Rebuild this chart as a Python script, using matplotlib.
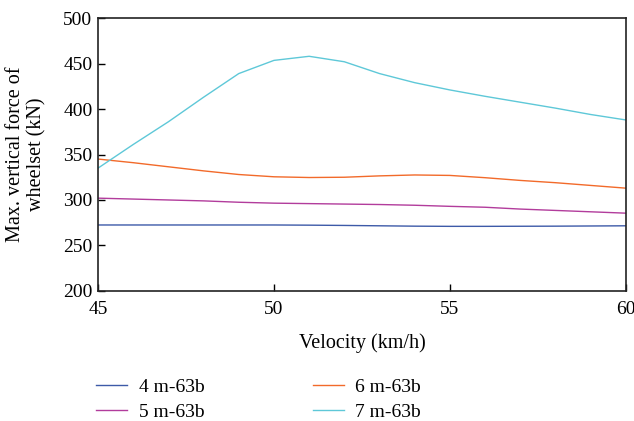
import numpy as np
import matplotlib
matplotlib.use('Agg')
import matplotlib.pyplot as plt

plt.rcParams['font.family'] = ['Liberation Serif', 'DejaVu Serif']

velocity = [45, 46, 47, 48, 49, 50, 51, 52, 53, 54, 55, 56, 57, 58, 59, 60]
force_4m = [272.5, 272.5, 272.5, 272.5, 272.5, 272.5, 272.3, 272.0, 271.6, 271.2, 271.0, 271.0, 271.1, 271.2, 271.4, 271.6]
force_5m = [302, 301, 300, 299, 297.5, 296.5, 296, 295.5, 295, 294.2, 293, 292, 290, 288.5, 287, 285.5]
force_6m = [345, 341, 336.5, 332, 328, 325.5, 324.7, 325, 326.5, 327.5, 327, 324.5, 321.5, 319, 316, 313]
force_7m = [335, 361, 386, 413, 439, 453.5, 458, 452, 439, 429, 421, 414, 407.5, 401, 394, 388]

labels = ['4 m-63b', '5 m-63b', '6 m-63b', '7 m-63b']
colors = ['#3d5aa8', '#b23c9c', '#f26a2a', '#5ec8d8']

fig = plt.figure(figsize=(6.34, 4.21), dpi=100)
ax = fig.add_axes([0.1546, 0.309, 0.8325, 0.648])

for series, lab, col in zip([force_4m, force_5m, force_6m, force_7m], labels, colors):
    ax.plot(velocity, series, color=col, lw=1.0, label=lab)

ax.set_xlim(45, 60)
ax.set_ylim(200, 500)
ax.set_xticks([45, 50, 55, 60])
ax.set_yticks(np.arange(200, 501, 50))
ax.tick_params(direction='in', length=5, width=1, labelsize=14, top=False, right=False)
ax.tick_params(axis='x', pad=7)
ax.tick_params(axis='y', pad=4)
for s in ax.spines.values():
    s.set_linewidth(1.2)
    s.set_color('#222222')

ax.set_xlabel('Velocity (km/h)', fontsize=14.5, labelpad=11)
ax.set_ylabel('Max. vertical force of\nwheelset (kN)', fontsize=14.5, labelpad=12, linespacing=1.15)

handles, labs = ax.get_legend_handles_labels()
fig.legend(handles, labs, ncol=2, loc='lower left', bbox_to_anchor=(0.124, -0.042),
           frameon=False, fontsize=14, handlelength=1.6, columnspacing=5.55,
           labelspacing=0.4, handletextpad=0.6)

fig.savefig('out.png', dpi=100)
